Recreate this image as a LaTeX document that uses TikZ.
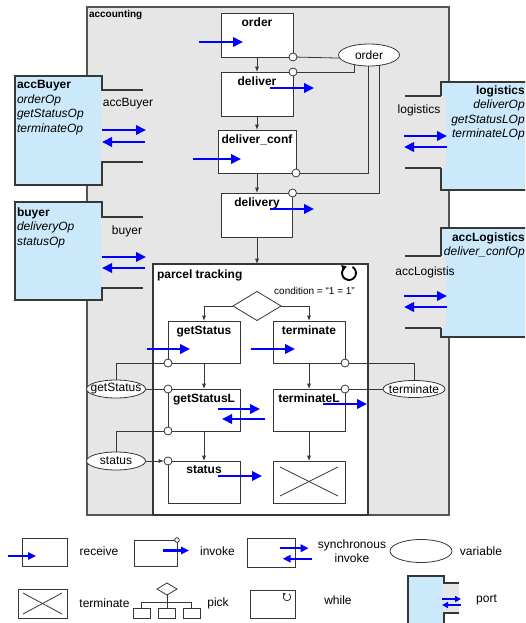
\documentclass[tikz,border=0pt]{standalone}
\usepackage{fontspec}
\setmainfont{Liberation Sans}
\usetikzlibrary{arrows.meta,shapes.geometric}
\definecolor{accgray}{RGB}{230,230,230}
\definecolor{partnerblue}{RGB}{204,233,252}
\definecolor{edge}{RGB}{55,55,55}

\begin{document}
\begin{tikzpicture}
    [x=0.75pt, y=-0.75pt,
    every node/.style={font=\fontsize{9}{10.9}\selectfont, inner sep=0pt, outer sep=0pt},
    ttl/.style={font=\bfseries\fontsize{9}{10.9}\selectfont},
    act/.style={draw=edge, fill=white, line width=0.7pt, minimum width=54pt, minimum height=31.5pt,
      label={[ttl, anchor=north, yshift=-3.6pt]north:#1}},
    legbox/.style={draw=edge, fill=white, line width=0.7pt},
    ring/.style={circle, draw=edge, fill=white, line width=0.6pt, minimum size=6pt},
    var/.style={ellipse, draw=edge, fill=white, line width=0.6pt, label=center:#1},
    var/.default={},
    partner/.style={draw=edge, fill=partnerblue, line width=0.8pt},
    portgap/.style={fill=accgray, minimum width=31.5pt, minimum height=54pt},
    ops/.style={font=\fontsize{9}{10.9}\selectfont},
    wire/.style={draw=edge, line width=0.6pt},
    pline/.style={draw=edge, line width=0.8pt},
    flow/.style={wire, -{Latex[length=4pt, width=3pt]}},
    msg/.style={draw=blue, line width=2.2pt, -{Triangle[length=7.5pt, width=7pt]}},
    smallmsg/.style={draw=blue, line width=1.7pt, -{Triangle[length=6pt, width=5.5pt]}},
    tinymsg/.style={draw=blue, line width=1.4pt, -{Triangle[length=4.5pt, width=4.5pt]}}]
    \useasboundingbox (0,0) rectangle (525,623);
    \clip (0,0) rectangle (525,623);

    % process
    \node[draw=edge!85, fill=accgray, line width=1.1pt, minimum width=271.5pt, minimum height=381pt] (accounting) at (268,261) {};
    \node[anchor=north west, font=\bfseries\fontsize{7.5}{9}\selectfont] (accountingLbl) at (89,10) {accounting};

    % partners
    \node[partner, minimum width=65.25pt, minimum height=81.75pt] (accBuyer) at (58.5,130.5) {};
    \node[partner, minimum width=65.25pt, minimum height=73.5pt] (buyer) at (58.5,251) {};
    \node[partner, minimum width=68.25pt, minimum height=81pt] (logistics) at (486.5,136) {};
    \node[partner, minimum width=68.25pt, minimum height=81.75pt] (accLogistics) at (486.5,282.5) {};
    \node[ops, align=left, anchor=north west] (accBuyerOps) at (17,80.5)
      {\textbf{accBuyer}\\\textit{orderOp}\\\textit{getStatusOp}\\\textit{terminateOp}};
    \node[ops, align=left, anchor=north west] (buyerOps) at (17,207.5)
      {\textbf{buyer}\\\textit{deliveryOp}\\\textit{statusOp}};
    \node[ops, align=right, anchor=north east] (logisticsOps) at (524.7,85.5)
      {\textbf{logistics}\\\textit{deliverOp}\\\textit{getStatusLOp}\\\textit{terminateLOp}};
    \node[ops, align=right, anchor=north east] (accLogisticsOps) at (524.7,232.5)
      {\textbf{accLogistics}\\\textit{deliver\_confOp}};

    % ports
    \node[portgap] (accBuyerPort) at (122,126) {};
    \node[portgap, minimum height=53.25pt] (buyerPort) at (122,252.5) {};
    \node[portgap, minimum width=30.75pt] (logisticsPort) at (425.5,132) {};
    \node[portgap, minimum width=30.75pt] (accLogisticsPort) at (425.5,292) {};
    \draw[pline] (accBuyerPort.north west) -- (accBuyerPort.north east);
    \draw[pline] (accBuyerPort.south west) -- (accBuyerPort.south east);
    \draw[pline] (buyerPort.north west) -- (buyerPort.north east);
    \draw[pline] (buyerPort.south west) -- (buyerPort.south east);
    \draw[pline] (logisticsPort.north west) -- (logisticsPort.north west -| logistics.west);
    \draw[pline] (logisticsPort.south west) -- (logisticsPort.south west -| logistics.west);
    \draw[pline] (accLogisticsPort.north west) -- (accLogisticsPort.north west -| accLogistics.west);
    \draw[pline] (accLogisticsPort.south west) -- (accLogisticsPort.south west -| accLogistics.west);
    \node (accBuyerName) at (128,104) {accBuyer};
    \node (buyerName) at (127,231) {buyer};
    \node (logisticsName) at (419,110) {logistics};
    \node (accLogisticsName) at (425,272) {accLogistis};
    \draw[msg] ([shift={(1,4)}]accBuyerPort.west) -- ++(44,0);
    \draw[msg] ([shift={(44,16)}]accBuyerPort.west) -- ++(-43,0);
    \draw[msg] ([shift={(1,4.5)}]buyerPort.west) -- ++(44,0);
    \draw[msg] ([shift={(44,15.5)}]buyerPort.west) -- ++(-43,0);
    \draw[msg] ([shift={(-1,4)}]logisticsPort.west) -- ++(43,0);
    \draw[msg] ([shift={(42,15)}]logisticsPort.west) -- ++(-43,0);
    \draw[msg] ([shift={(-1,4)}]accLogisticsPort.west) -- ++(43,0);
    \draw[msg] ([shift={(42,15)}]accLogisticsPort.west) -- ++(-43,0);

    % main sequence
    \node[act=order, minimum height=33pt] (order) at (257,35) {};
    \node[act=deliver, minimum height=33pt] (deliver) at (257,94) {};
    \node[act=deliver\_conf, minimum width=58.5pt, minimum height=32.25pt] (deliverConf) at (257,151.5) {};
    \node[act=delivery, minimum width=53.25pt, minimum height=33pt] (delivery) at (257,215) {};
    \draw[flow] (order) -- (deliver);
    \draw[flow] (deliver) -- (deliverConf);
    \draw[flow] (deliverConf) -- (delivery);
    \node[ring] (orderR) at (order.south east) {};
    \node[ring] (deliverR) at (deliver.north east) {};
    \node[ring] (confR) at (deliverConf.south east) {};
    \node[ring] (deliveryR) at (delivery.north east) {};
    \node[var=order, minimum width=45.75pt, minimum height=16.5pt] (orderV) at (369,55) {};
    \draw[wire] (orderR) -- (orderV.186);
    \draw[wire] (deliverR) -| (orderV.213);
    \draw[wire] (confR) -| (orderV.268);
    \draw[wire] (deliveryR) -| (orderV.314);
    \draw[msg] ([shift={(-22,7)}]order.west) -- ++(44,0);
    \draw[msg] ([shift={(13,-6)}]deliver.center) -- ++(44,0);
    \draw[msg] ([shift={(-25,7.5)}]deliverConf.west) -- ++(48,0);
    \draw[msg] ([shift={(13,-6)}]delivery.center) -- ++(44,0);

    % while
    \node[draw=edge, fill=white, line width=0.8pt, minimum width=161.25pt, minimum height=188.25pt] (tracking) at (260.5,389.5) {};
    \draw[flow] (delivery) -- (delivery |- tracking.north);
    \node[ttl, anchor=west] (trackingLbl) at (157,275) {parcel tracking};
    \node[font=\fontsize{7.5}{9}\selectfont] (cond) at (314.5,291) {condition = “1 = 1”};
    \coordinate (loop) at (349,273);
    \draw[line width=1.4pt, -{Triangle[length=3.5pt, width=4.5pt]}] ([shift={(60:5.25pt)}]loop)
      arc[start angle=60, end angle=-250, radius=5.25pt];

    % pick
    \node[diamond, draw=edge, fill=white, line width=0.6pt, minimum width=36pt, minimum height=21.75pt] (pick) at (257,306) {};
    \node[act=getStatus] (getStatus) at (204,342) {};
    \node[act=terminate] (terminate) at (309,342) {};
    \node[act=getStatusL] (getStatusL) at (204,410) {};
    \node[act=terminateL] (terminateL) at (309,410) {};
    \node[act=status] (status) at (204,482) {};
    \node[legbox, minimum width=54pt, minimum height=31.5pt] (stop) at (309,482) {};
    \draw[wire] ([shift={(7,6)}]stop.north west) -- ([shift={(-7,-7)}]stop.south east);
    \draw[wire] ([shift={(7,-7)}]stop.south west) -- ([shift={(-7,6)}]stop.north east);
    \draw[flow] (pick.west) -| (getStatus);
    \draw[flow] (pick.east) -| (terminate);
    \draw[flow] (getStatus) -- (getStatusL);
    \draw[flow] (getStatusL) -- (status);
    \draw[flow] (terminate) -- (terminateL);
    \draw[flow] (terminateL) -- (stop);
    \node[ring] (getStatusR) at (getStatus.south west) {};
    \node[ring] (getStatusLInR) at (getStatusL.north west) {};
    \node[ring] (getStatusLOutR) at (getStatusL.south west) {};
    \node[ring] (statusR) at (status.north west) {};
    \node[ring] (terminateR) at (terminate.south east) {};
    \node[ring] (terminateLR) at (terminateL.north east) {};
    \node[var=getStatus, minimum width=44.25pt, minimum height=13.5pt] (getStatusV) at (116,389) {};
    \node[var=status, minimum width=44.25pt, minimum height=13.5pt] (statusV) at (116,461) {};
    \node[var=terminate, minimum width=46.5pt, minimum height=12.75pt] (terminateV) at (414,389) {};
    \draw[wire] (getStatusV.north) |- (getStatusR);
    \draw[wire] (getStatusV) -- (getStatusLInR);
    \draw[wire] (getStatusLOutR) -| (statusV.north);
    \draw[flow] (statusV) -- (statusR);
    \draw[wire] (terminateR) -| (terminateV.north);
    \draw[wire] (terminateLR) -- (terminateV);
    \draw[msg] ([shift={(-21,7)}]getStatus.west) -- ++(43,0);
    \draw[msg] ([shift={(-22,7)}]terminate.west) -- ++(44,0);
    \draw[msg] ([shift={(14,-1)}]getStatusL.center) -- ++(42,0);
    \draw[msg] ([shift={(61,9)}]getStatusL.center) -- ++(-43,0);
    \draw[msg] ([shift={(14,-6)}]terminateL.center) -- ++(44,0);
    \draw[msg] ([shift={(14,-6)}]status.center) -- ++(44,0);

    % legend
    \node[legbox, minimum width=33.75pt, minimum height=21pt] (legRecv) at (44.5,552) {};
    \draw[smallmsg] ([shift={(-14,4)}]legRecv.west) -- ++(28,0);
    \node (legRecvTxt) at (99,551) {receive};
    \node[legbox, minimum width=32.25pt, minimum height=19.5pt] (legInv) at (155.5,553) {};
    \node[ring, minimum size=3.5pt] (legInvR) at (legInv.north east) {};
    \draw[smallmsg] ([shift={(7.5,-2.5)}]legInv.center) -- ++(26,0);
    \node (legInvTxt) at (217.5,551) {invoke};
    \node[legbox, minimum width=36pt, minimum height=21.75pt] (legSync) at (271.7,552.7) {};
    \draw[smallmsg] ([shift={(8,-4.5)}]legSync.center) -- ++(29,0);
    \draw[smallmsg] ([shift={(40,6)}]legSync.center) -- ++(-29,0);
    \node[align=center, font=\fontsize{9}{10.5}\selectfont] (legSyncTxt) at (352,551) {synchronous\\invoke};
    \node[var, minimum width=46.5pt, minimum height=17.25pt] (legVar) at (421,551) {};
    \node (legVarTxt) at (481,551) {variable};
    \node[legbox, minimum width=36.75pt, minimum height=21.75pt] (legStop) at (42.5,603.5) {};
    \draw[wire] ([shift={(5,4)}]legStop.north west) -- ([shift={(-5,-4)}]legStop.south east);
    \draw[wire] ([shift={(5,-4)}]legStop.south west) -- ([shift={(-5,4)}]legStop.north east);
    \node (legStopTxt) at (104.5,603) {terminate};
    \node[diamond, draw=edge, fill=white, line width=0.6pt, minimum width=15pt, minimum height=9pt] (legPick) at (167,589) {};
    \node[legbox, minimum width=12.75pt, minimum height=7.5pt] (legPickA) at (141.7,613) {};
    \node[legbox, minimum width=12.75pt, minimum height=7.5pt] (legPickB) at (167,613) {};
    \node[legbox, minimum width=12.75pt, minimum height=7.5pt] (legPickC) at (191.5,613) {};
    \draw[wire] (legPick.south) -- (legPickB.north);
    \draw[wire] (legPickA.north) -- ++(0,-6) -| (legPickC.north);
    \node (legPickTxt) at (218,603) {pick};
    \node[legbox, minimum width=33.75pt, minimum height=21pt] (legWhile) at (272.5,604) {};
    \coordinate (legLoop) at (287,597);
    \draw[wire, -{Triangle[length=2pt, width=2.5pt]}] ([shift={(60:2.8pt)}]legLoop)
      arc[start angle=60, end angle=-250, radius=2.8pt];
    \node (legWhileTxt) at (338,600) {while};
    \node[partner, minimum width=27pt, minimum height=45pt] (legPartner) at (426,606) {};
    \node[portgap, minimum width=12pt, minimum height=22.5pt] (legPort) at (451,598) {};
    \draw[pline] (legPort.north west) -- (legPort.north east);
    \draw[pline] (legPort.south west) -- (legPort.south east);
    \draw[tinymsg] ([shift={(-1,1)}]legPort.west) -- ++(19,0);
    \draw[tinymsg] ([shift={(18,7)}]legPort.west) -- ++(-19,0);
    \node (legPortTxt) at (486.5,600) {port};
  \end{tikzpicture}
\end{document}
